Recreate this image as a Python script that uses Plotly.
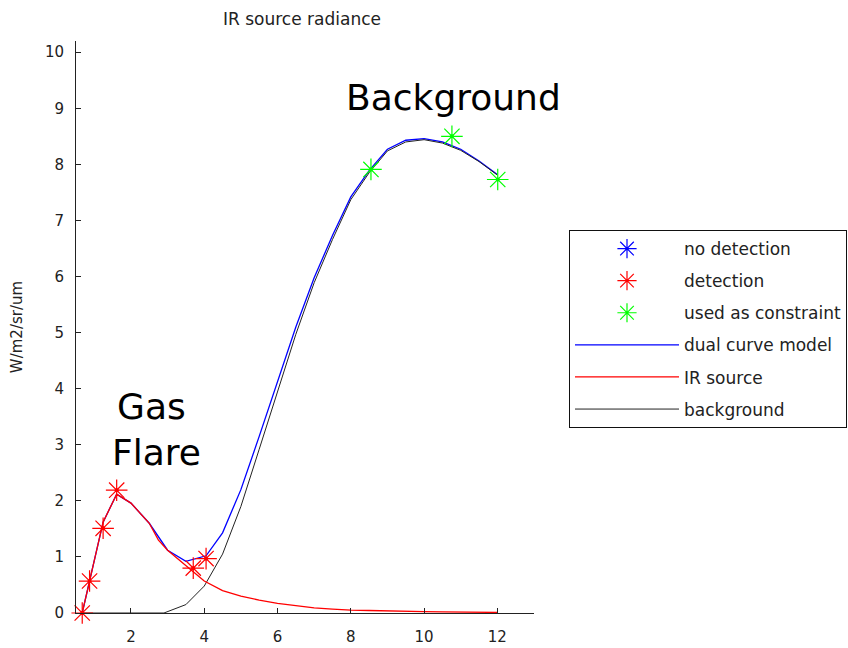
import plotly.graph_objects as go

# ---------------- data ----------------
# detection points (red asterisks)
det_x = [0.67, 0.87, 1.24, 1.61, 3.70, 4.05]
det_y = [0.00, 0.57, 1.51, 2.19, 0.80, 0.97]

# points used as constraint (green asterisks)
con_x = [8.55, 10.76, 12.01]
con_y = [7.91, 8.50, 7.73]

# no-detection points (none in this chart)
nodet_x = []
nodet_y = []

# IR source curve (red)
ir_x = [0.67, 0.87, 1.24, 1.61, 2.0, 2.5, 2.75, 3.0, 3.5, 4.0, 4.5, 5.0, 5.5, 6.0,
        6.5, 7.0, 7.5, 8.0, 8.5, 9.0, 9.5, 10.0, 10.5, 11.0, 11.5, 12.0]
ir_y = [0.00, 0.57, 1.62, 2.12, 1.96, 1.60, 1.30, 1.12, 0.84, 0.57, 0.40, 0.30, 0.23, 0.17,
        0.13, 0.09, 0.07, 0.05, 0.045, 0.035, 0.03, 0.025, 0.02, 0.015, 0.012, 0.01]

# background curve (black)
bg_x = [0.67, 1.0, 2.0, 2.9, 3.5, 4.0, 4.5, 5.0, 5.5, 6.0, 6.5, 7.0, 7.5, 8.0,
        8.5, 9.0, 9.5, 10.0, 10.5, 11.0, 11.5, 12.0]
bg_y = [0.00, 0.00, 0.00, 0.00, 0.15, 0.48, 1.05, 1.90, 2.92, 3.96, 4.97, 5.89, 6.66, 7.37,
        7.85, 8.24, 8.40, 8.44, 8.38, 8.25, 8.05, 7.81]

# dual curve model (blue)
dual_x = [0.67, 0.87, 1.24, 1.61, 2.0, 2.5, 2.75, 3.0, 3.5, 3.7, 4.05, 4.5, 5.0, 5.5, 6.0,
          6.5, 7.0, 7.5, 8.0, 8.5, 9.0, 9.5, 10.0, 10.5, 11.0, 11.5, 12.0]
dual_y = [0.00, 0.57, 1.62, 2.12, 1.96, 1.60, 1.35, 1.12, 0.92, 0.96, 1.02, 1.43, 2.20, 3.15, 4.13,
          5.10, 5.98, 6.73, 7.42, 7.89, 8.27, 8.43, 8.46, 8.40, 8.27, 8.06, 7.82]

FONT = "DejaVu Sans"
BLUE = "#0000ff"
RED = "#ff0000"
GREEN = "#00ff00"
MSIZE = 18

fig = go.Figure()

# lines (blue, black, red on top)
fig.add_trace(go.Scatter(x=dual_x, y=dual_y, mode="lines", name="dual curve model",
                         line=dict(color=BLUE, width=1.3), legendgroup="d", legendrank=4))
fig.add_trace(go.Scatter(x=bg_x, y=bg_y, mode="lines", name="background",
                         line=dict(color="#222222", width=1), legendgroup="b", legendrank=6))
fig.add_trace(go.Scatter(x=ir_x, y=ir_y, mode="lines", name="IR source",
                         line=dict(color=RED, width=1.3), legendgroup="i", legendrank=5))

# markers
fig.add_trace(go.Scatter(x=nodet_x if nodet_x else [None], y=nodet_y if nodet_y else [None],
                         mode="markers", name="no detection",
                         marker=dict(symbol="asterisk-open", size=MSIZE, color=BLUE,
                                     line=dict(color=BLUE, width=1.2)),
                         legendgroup="n", legendrank=1))
fig.add_trace(go.Scatter(x=det_x, y=det_y, mode="markers", name="detection",
                         marker=dict(symbol="asterisk-open", size=MSIZE, color=RED,
                                     line=dict(color=RED, width=1.2)),
                         legendgroup="t", legendrank=2, cliponaxis=False))
fig.add_trace(go.Scatter(x=con_x, y=con_y, mode="markers", name="used as constraint",
                         marker=dict(symbol="asterisk-open", size=MSIZE, color=GREEN,
                                     line=dict(color=GREEN, width=1.2)),
                         legendgroup="c", legendrank=3, cliponaxis=False))
# centre dots of the asterisks
fig.add_trace(go.Scatter(x=det_x, y=det_y, mode="markers", showlegend=False, hoverinfo="skip",
                         marker=dict(symbol="circle", size=4, color=RED), cliponaxis=False))
fig.add_trace(go.Scatter(x=con_x, y=con_y, mode="markers", showlegend=False, hoverinfo="skip",
                         marker=dict(symbol="circle", size=4, color=GREEN), cliponaxis=False))

axis_common = dict(
    showgrid=False, zeroline=False, showline=True, linecolor="#222222", linewidth=1,
    ticks="inside", ticklen=5, tickwidth=1, tickcolor="#222222",
    tickfont=dict(family=FONT, size=15, color="#222222"),
    mirror=False, automargin=False,
)

fig.update_layout(
    width=848, height=648,
    margin=dict(l=76, r=314, t=41, b=35),
    paper_bgcolor="white", plot_bgcolor="white",
    title=dict(text="IR source radiance", x=302 / 848, xanchor="center",
               y=1 - 19 / 648, yanchor="middle",
               font=dict(family=FONT, size=17, color="#222222")),
    xaxis=dict(range=[0.5, 13], tickvals=[2, 4, 6, 8, 10, 12], ticklabelstandoff=10, **axis_common),
    yaxis=dict(range=[0, 10.2], tickvals=list(range(0, 11)), ticklabelstandoff=8,
               title=dict(text="W/m2/sr/um", font=dict(family=FONT, size=15, color="#222222"),
                          standoff=18),
               **axis_common),
    legend=dict(xref="container", yref="container",
                x=569 / 848, y=1 - 230 / 648, xanchor="left", yanchor="top",
                bordercolor="#111111", borderwidth=1, bgcolor="white",
                font=dict(family=FONT, size=17, color="#222222"),
                tracegroupgap=7, itemwidth=104, traceorder="grouped"),
    showlegend=True,
    annotations=[
        dict(text="Background", xref="paper", yref="paper", x=(453 - 76) / 458,
             y=(613 - 97) / 572, xanchor="center", yanchor="middle", showarrow=False,
             font=dict(family=FONT, size=36, color="black")),
        dict(text="Gas", xref="paper", yref="paper", x=(151 - 76) / 458,
             y=(613 - 407) / 572, xanchor="center", yanchor="middle", showarrow=False,
             font=dict(family=FONT, size=36, color="black")),
        dict(text="Flare", xref="paper", yref="paper", x=(156.7 - 76) / 458,
             y=(613 - 452) / 572, xanchor="center", yanchor="middle", showarrow=False,
             font=dict(family=FONT, size=36, color="black")),
    ],
)

fig.write_html("out.html")
